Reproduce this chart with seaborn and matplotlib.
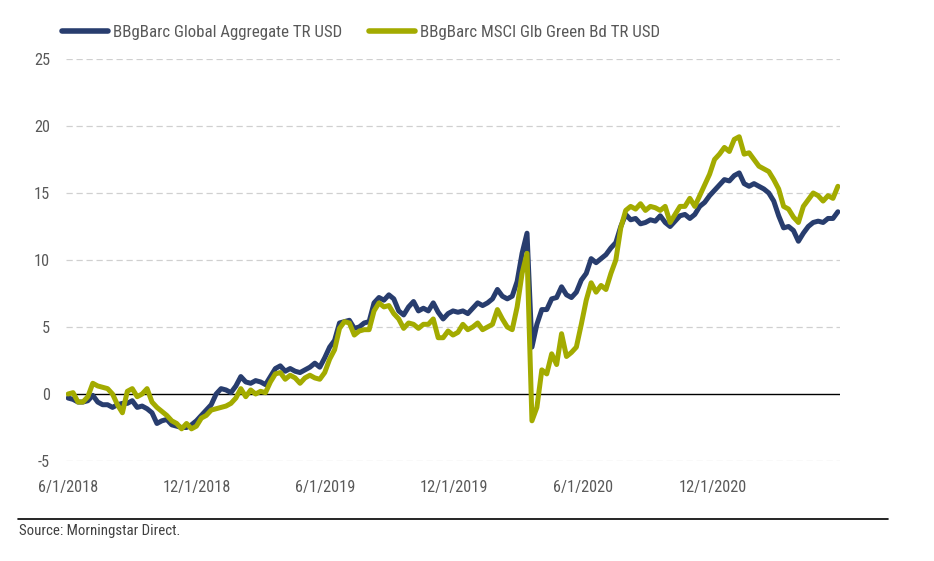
import matplotlib
matplotlib.use("Agg")
import matplotlib.pyplot as plt
from matplotlib import font_manager
from matplotlib.lines import Line2D
from matplotlib.font_manager import FontProperties
from matplotlib.textpath import TextPath
import seaborn as sns
import pandas as pd

series_names = ["BBgBarc Global Aggregate TR USD", "BBgBarc MSCI Glb Green Bd TR USD"]
series_colors = ["#283D6E", "#A3AB00"]

start_date = "2018-06-01"
n_weeks = 157

global_agg = [
    -0.3, -0.4, -0.6, -0.6, -0.5, -0.1, -0.6, -0.8, -0.8, -1.0,
    -0.8, -0.7, -0.7, -0.5, -1.0, -0.9, -1.1, -1.4, -2.2, -2.0,
    -1.9, -2.3, -2.4, -2.5, -2.5, -2.3, -2.0, -1.6, -1.2, -0.8,
    0.0, 0.4, 0.3, 0.1, 0.6, 1.3, 0.9, 0.8, 1.0, 0.9,
    0.7, 1.3, 1.9, 2.1, 1.7, 1.9, 1.7, 1.6, 1.8, 2.0,
    2.3, 2.0, 2.7, 3.5, 4.0, 5.3, 5.4, 5.5, 4.9, 5.0,
    5.3, 5.4, 6.8, 7.2, 7.0, 7.4, 7.1, 6.2, 5.9, 6.5,
    6.9, 6.2, 6.4, 6.2, 6.8, 6.1, 5.6, 6.0, 6.2, 6.1,
    6.2, 6.0, 6.4, 6.8, 6.6, 6.8, 7.1, 7.8, 7.3, 7.1,
    7.3, 8.4, 10.5, 12.0, 3.5, 5.2, 6.3, 6.3, 7.1, 7.2,
    8.0, 7.4, 7.2, 7.6, 8.5, 9.0, 10.1, 9.8, 10.1, 10.4,
    10.9, 11.3, 12.5, 13.4, 13.0, 13.1, 12.7, 12.8, 13.0, 12.9,
    13.3, 12.8, 12.5, 12.9, 13.3, 13.4, 13.1, 13.4, 14.0, 14.3,
    14.8, 15.2, 15.6, 16.0, 15.9, 16.3, 16.5, 15.7, 15.5, 15.7,
    15.5, 15.3, 15.0, 14.4, 13.3, 12.4, 12.5, 12.2, 11.4, 12.0,
    12.5, 12.8, 12.9, 12.8, 13.1, 13.1, 13.6,
]

green_bond = [
    0.0, 0.1, -0.6, -0.6, -0.2, 0.8, 0.6, 0.5, 0.4, 0.0,
    -0.8, -1.4, 0.2, 0.4, -0.2, 0.0, 0.4, -0.6, -1.0, -1.3,
    -1.6, -2.0, -2.2, -2.6, -2.2, -2.6, -2.4, -1.8, -1.6, -1.2,
    -1.1, -1.0, -0.9, -0.7, -0.3, 0.4, -0.2, 0.3, 0.0, 0.2,
    0.1, 0.9, 1.5, 1.6, 1.1, 1.4, 1.2, 0.8, 1.2, 1.4,
    1.2, 1.1, 1.6, 2.6, 3.3, 4.9, 5.4, 5.3, 4.4, 4.7,
    4.8, 4.8, 6.2, 6.8, 6.5, 6.6, 6.0, 5.6, 4.9, 5.3,
    5.2, 4.9, 5.2, 5.2, 5.6, 4.2, 4.2, 4.7, 4.4, 4.6,
    5.2, 4.8, 5.0, 5.3, 4.8, 5.0, 5.2, 6.3, 5.6, 5.0,
    4.8, 6.5, 9.0, 10.5, -2.0, -1.0, 1.8, 1.5, 3.0, 2.2,
    4.5, 2.8, 3.1, 3.5, 5.2, 7.0, 8.3, 7.6, 8.1, 7.8,
    9.0, 10.0, 12.4, 13.7, 14.0, 13.8, 14.2, 13.7, 14.0, 13.9,
    13.7, 14.0, 12.8, 13.4, 14.0, 14.0, 14.6, 14.0, 14.8, 15.6,
    16.4, 17.5, 17.9, 18.4, 18.1, 19.0, 19.2, 17.9, 18.0, 17.5,
    17.0, 16.8, 16.6, 16.0, 15.3, 14.0, 13.8, 13.2, 12.8, 14.0,
    14.5, 15.0, 14.8, 14.4, 14.8, 14.6, 15.5,
]

y_ticks = [-5, 0, 5, 10, 15, 20, 25]
x_tick_dates = ["2018-06-01", "2018-12-01", "2019-06-01", "2019-12-01", "2020-06-01", "2020-12-01"]
x_tick_labels = ["6/1/2018", "12/1/2018", "6/1/2019", "12/1/2019", "6/1/2020", "12/1/2020"]
source_text = "Source: Morningstar Direct."

dates = pd.date_range(start_date, periods=n_weeks, freq="7D")
df = pd.concat([
    pd.DataFrame({"date": dates, "value": global_agg, "series": series_names[0]}),
    pd.DataFrame({"date": dates, "value": green_bond, "series": series_names[1]}),
])

sns.set_theme(style="white")

# pick a condensed font if one is installed
avail = font_manager.fontManager.ttflist
names = {f.name for f in avail}
family, stretch = None, "normal"
for cand in ["Roboto Condensed", "Liberation Sans Narrow", "Open Sans Condensed", "Noto Sans Condensed",
             "DejaVu Sans Condensed", "Arial Narrow"]:
    if cand in names:
        family = cand
        break
if family is None:
    for base in ["Roboto", "Noto Sans", "Open Sans", "DejaVu Sans"]:
        if any(f.name == base and "condensed" in str(f.stretch).lower() for f in avail):
            family, stretch = base, "condensed"
            break
        if any(f.name == base and str(f.stretch).isdigit() and int(f.stretch) < 500 for f in avail):
            family, stretch = base, "condensed"
            break
if family is None:
    family = "Roboto"
plt.rcParams["font.family"] = [family, "DejaVu Sans"]
plt.rcParams["font.stretch"] = stretch
plt.rcParams["axes.unicode_minus"] = False


def fit_size(text, target_px):
    fp = FontProperties(family=[family, "DejaVu Sans"], stretch=stretch, size=12)
    w = TextPath((0, 0), text, prop=fp).get_extents().width  # in points at size 12
    w_px = w * 100 / 72
    return 12 * target_px / w_px


leg_size = fit_size(series_names[0], 228)
tick_size = fit_size("12/1/2018", 66)
src_size = fit_size(source_text, 159)

fig = plt.figure(figsize=(9.34, 5.61), dpi=100)
ax = fig.add_axes([66 / 934, 1 - 461 / 561, (840 - 66) / 934, (461 - 59) / 561])

sns.lineplot(data=df, x="date", y="value", hue="series", palette=dict(zip(series_names, series_colors)),
             linewidth=3.6, ax=ax, legend=False)

ax.set_ylim(-5, 25)
ax.set_xlim(pd.Timestamp("2018-05-29"), dates[-1] + pd.Timedelta(days=3))
ax.set_yticks(y_ticks)
ax.set_yticklabels([str(t) for t in y_ticks])
ax.set_xticks([pd.Timestamp(d) for d in x_tick_dates])
ax.set_xticklabels(x_tick_labels)
ax.tick_params(axis="y", length=0, pad=11.5, labelsize=tick_size, labelcolor="#595959")
ax.tick_params(axis="x", length=0, pad=14, labelsize=tick_size, labelcolor="#595959")
ax.set_xlabel("")
ax.set_ylabel("")
for s in ax.spines.values():
    s.set_visible(False)
ax.grid(False)
for t in y_ticks:
    if t != 0:
        ax.axhline(t, color="#D0D0D0", linewidth=0.9, linestyle=(0, (5, 3)), zorder=0)
ax.axhline(0, color="black", linewidth=1.0, zorder=1)

fs_px = leg_size * 100 / 72
handles = [Line2D([0], [0], color=c, linewidth=4, solid_capstyle="round") for c in series_colors]
fig.legend(handles, series_names, loc="center left", bbox_to_anchor=(62 / 934, 1 - 32 / 561), ncol=2,
           frameon=False, fontsize=leg_size, handlelength=46 / fs_px, handletextpad=5 / fs_px,
           columnspacing=27 / fs_px, borderpad=0, borderaxespad=0, labelcolor="#595959")

fig.add_artist(Line2D([18 / 934, 888 / 934], [1 - 519 / 561, 1 - 519 / 561], color="black", linewidth=1.2))
fig.text(19 / 934, 1 - 531 / 561, source_text, fontsize=src_size, color="#404040", va="center", ha="left")

fig.savefig("out.png", dpi=100)
